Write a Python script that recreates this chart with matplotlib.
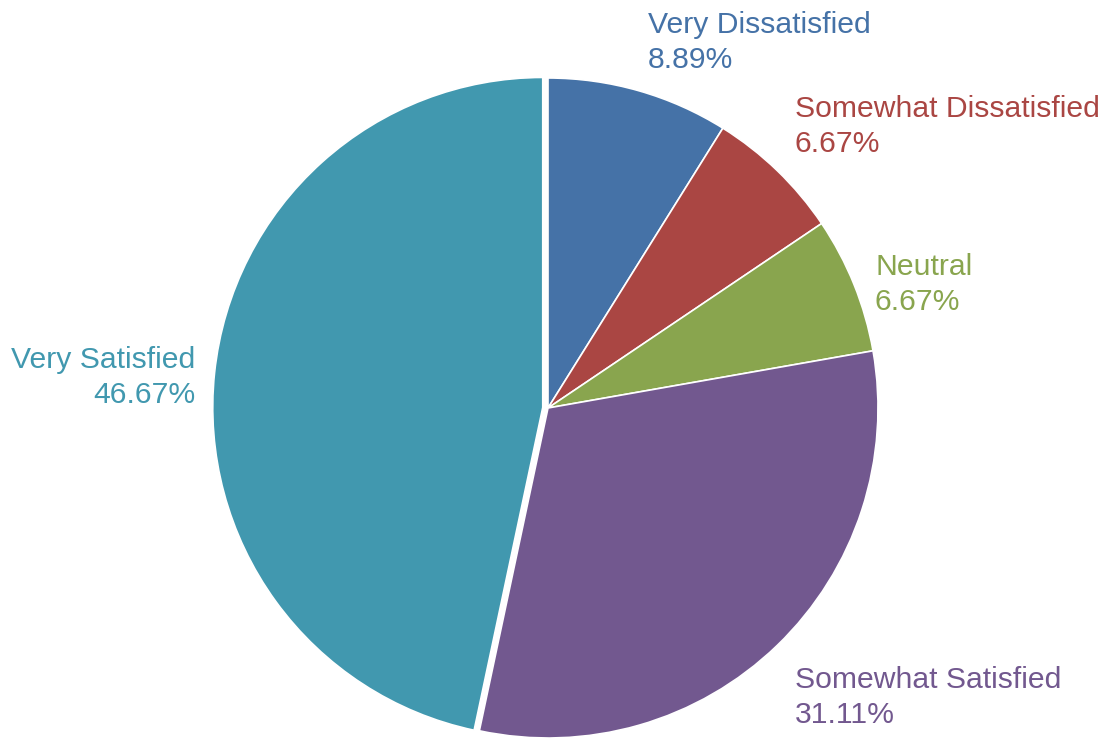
import matplotlib.pyplot as plt

# satisfaction survey shares (percent)
categories = ['Very Dissatisfied', 'Somewhat Dissatisfied', 'Neutral',
              'Somewhat Satisfied', 'Very Satisfied']
shares = [8.89, 6.67, 6.67, 31.11, 46.67]
colors = ['#4572A7', '#AA4643', '#89A54E', '#72588F', '#4198AF']
explode = [0, 0, 0, 0, 0.016]  # fraction of the radius

# label anchors in pixels (x, last-line baseline), with horizontal alignment
label_pos = [(648, 68, 'left'), (795, 152, 'left'), (875, 310, 'left'),
             (795, 723, 'left'), (195, 403, 'right')]

W, H = 1108, 740
R = 330
fig = plt.figure(figsize=(W / 100, H / 100), dpi=100)
ax = fig.add_axes([0, 0, 1, 1])

# explode in pie() is in data units, so scale it by the radius
ax.pie(shares, colors=colors, explode=[e * R for e in explode], startangle=90,
       counterclock=False, center=(548, H - 408), radius=R,
       wedgeprops=dict(edgecolor='white', linewidth=1.2))

# pie() resets the limits, so put the pixel frame back afterwards
ax.set_xlim(0, W)
ax.set_ylim(0, H)
ax.set_aspect('equal')
ax.axis('off')

for name, val, col, (x, y, ha) in zip(categories, shares, colors, label_pos):
    ax.text(x, H - y, name + '\n' + '%.2f%%' % val, color=col, ha=ha, va='baseline',
            fontsize=21.7, family='Liberation Sans', linespacing=1.32,
            multialignment=ha)

plt.savefig('out.png', dpi=100)
